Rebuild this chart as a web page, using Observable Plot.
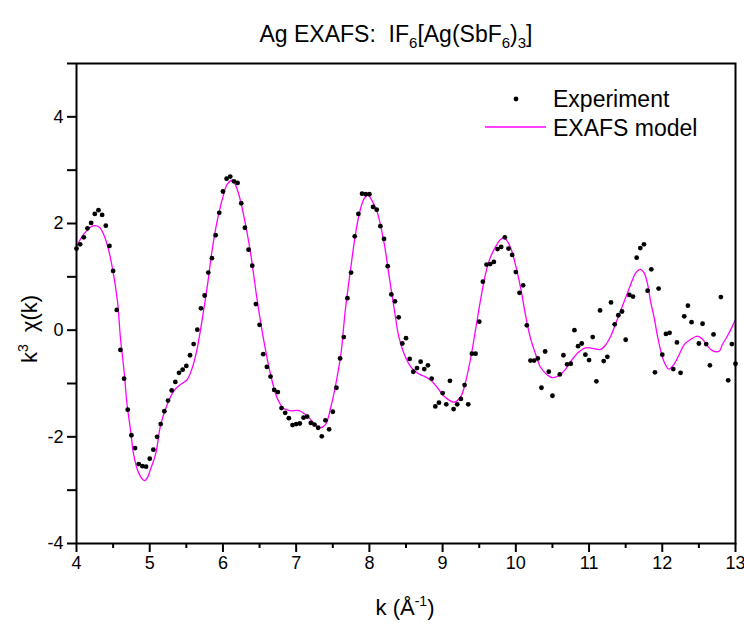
<!DOCTYPE html>
<html>
<head>
<meta charset="utf-8">
<script src="https://cdn.jsdelivr.net/npm/d3@7"></script>
<script src="https://cdn.jsdelivr.net/npm/@observablehq/plot@0.6"></script>
<style>
  html, body { margin: 0; padding: 0; background: #fff; }
</style>
</head>
<body>
<div id="chart"></div>
<script>
// Experimental data k (Å^-1) and k^3 chi(k)
const kExp = [4.00,4.05,4.10,4.15,4.20,4.25,4.30,4.35,4.40,4.45,4.50,4.55,4.60,4.65,4.70,4.75,4.80,4.85,4.90,4.95,
  5.00,5.05,5.10,5.15,5.20,5.25,5.30,5.35,5.40,5.45,5.50,5.55,5.60,5.65,5.70,5.75,5.80,5.85,5.90,5.95,
  6.00,6.05,6.10,6.15,6.20,6.25,6.30,6.35,6.40,6.45,6.50,6.55,6.60,6.65,6.70,6.75,6.80,6.85,6.90,6.95,
  7.00,7.05,7.10,7.15,7.20,7.25,7.30,7.35,7.40,7.45,7.50,7.55,7.60,7.65,7.70,7.75,7.80,7.85,7.90,7.95,
  8.00,8.05,8.10,8.15,8.20,8.25,8.30,8.35,8.40,8.45,8.50,8.55,8.60,8.65,8.70,8.75,8.80,8.85,8.90,8.95,
  9.00,9.05,9.10,9.15,9.20,9.25,9.30,9.35,9.40,9.45,9.50,9.55,9.60,9.65,9.70,9.75,9.80,9.85,9.90,9.95,
  10.00,10.05,10.10,10.15,10.20,10.25,10.30,10.35,10.40,10.45,10.50,10.60,10.65,10.70,10.75,10.80,10.85,10.90,10.95,
  11.00,11.05,11.10,11.15,11.20,11.25,11.30,11.35,11.40,11.45,11.50,11.55,11.60,11.65,11.70,11.75,11.80,11.85,11.90,11.95,
  12.00,12.05,12.10,12.15,12.20,12.25,12.30,12.35,12.40,12.50,12.55,12.60,12.65,12.70,12.80,12.90,12.95,13.00];
const chiExp = [1.53,1.61,1.74,1.91,2.01,2.18,2.25,2.16,1.96,1.58,1.11,0.38,-0.37,-0.91,-1.49,-1.97,-2.21,-2.51,-2.55,-2.56,
  -2.41,-2.24,-2.00,-1.76,-1.52,-1.32,-1.13,-0.97,-0.80,-0.74,-0.67,-0.47,-0.26,0.01,0.41,0.65,1.08,1.35,1.78,2.20,
  2.60,2.84,2.88,2.79,2.76,2.38,1.92,1.51,1.21,0.49,0.10,-0.45,-0.69,-0.87,-1.12,-1.16,-1.46,-1.55,-1.65,-1.78,
  -1.76,-1.75,-1.64,-1.62,-1.74,-1.77,-1.83,-1.99,-1.69,-1.86,-1.53,-1.08,-0.53,-0.13,0.60,1.08,1.76,2.18,2.56,2.55,
  2.55,2.31,2.26,1.95,1.71,1.20,0.67,0.54,0.24,-0.25,-0.15,-0.54,-0.78,-0.71,-0.59,-0.73,-0.66,-0.91,-1.43,-1.36,
  -1.18,-1.39,-0.95,-1.48,-1.39,-1.29,-1.03,-1.39,-0.44,-0.44,0.16,0.91,1.23,1.24,1.28,1.52,1.56,1.74,1.53,1.41,
  1.09,0.70,0.84,0.09,-0.57,-0.57,-0.53,-1.08,-0.40,-0.78,-1.23,-0.83,-0.47,-0.64,-0.63,0.00,-0.30,-0.25,-0.46,
  -0.56,-0.13,-0.96,0.37,-0.58,-0.50,0.52,0.11,0.28,0.35,-0.18,0.66,0.63,1.36,1.54,1.61,0.74,1.14,-0.79,0.78,
  -0.46,-0.07,-0.05,-0.73,-0.23,-0.80,0.26,0.46,0.15,-0.25,0.12,-0.26,-0.66,-0.08,0.62,-0.94,-0.26,-0.63];

// EXAFS model curve
const kModel = [4.00,4.10,4.20,4.26,4.32,4.37,4.43,4.49,4.56,4.60,4.65,4.69,4.74,4.78,4.85,4.93,4.97,5.01,5.08,5.15,
  5.24,5.33,5.42,5.51,5.58,5.65,5.72,5.79,5.85,5.92,6.00,6.06,6.13,6.20,6.29,6.38,6.47,6.56,6.65,6.74,
  6.83,6.92,7.04,7.15,7.24,7.32,7.40,7.47,7.54,7.61,7.67,7.74,7.81,7.87,7.93,7.98,8.04,8.11,8.20,8.27,
  8.34,8.40,8.47,8.56,8.65,8.74,8.84,8.93,9.02,9.11,9.16,9.25,9.31,9.38,9.45,9.52,9.59,9.66,9.73,9.79,
  9.85,9.93,10.00,10.07,10.13,10.20,10.27,10.34,10.43,10.50,10.59,10.68,10.77,10.86,10.95,11.04,11.16,11.23,11.30,11.36,
  11.43,11.50,11.57,11.64,11.70,11.75,11.80,11.84,11.89,11.93,11.98,12.03,12.09,12.16,12.23,12.30,12.39,12.48,12.55,12.62,
  12.69,12.78,12.82,12.89,12.96,13.00];
const chiModel = [1.57,1.80,1.94,1.96,1.92,1.80,1.55,1.17,0.54,-0.14,-0.77,-1.39,-1.89,-2.33,-2.68,-2.82,-2.76,-2.61,-2.33,-1.77,
  -1.39,-1.14,-1.02,-0.93,-0.71,-0.33,0.23,0.86,1.48,2.04,2.50,2.74,2.81,2.62,2.11,1.42,0.54,-0.21,-0.83,-1.27,
  -1.47,-1.51,-1.51,-1.61,-1.74,-1.83,-1.77,-1.46,-1.02,-0.46,0.36,1.11,1.80,2.23,2.47,2.53,2.42,2.20,1.64,1.01,
  0.39,-0.11,-0.43,-0.68,-0.80,-0.86,-0.94,-1.08,-1.24,-1.33,-1.35,-1.24,-0.99,-0.55,0.01,0.58,1.08,1.39,1.58,1.70,
  1.72,1.54,1.20,0.76,0.30,-0.15,-0.45,-0.70,-0.84,-0.89,-0.85,-0.73,-0.55,-0.41,-0.33,-0.34,-0.36,-0.27,-0.10,0.11,
  0.36,0.61,0.86,1.08,1.14,1.08,0.86,0.54,0.23,-0.08,-0.39,-0.61,-0.73,-0.64,-0.46,-0.27,-0.17,-0.11,-0.17,-0.30,
  -0.39,-0.39,-0.27,-0.11,0.08,0.20];

// Axis ticks
const xTicks = [4,5,6,7,8,9,10,11,12,13];
const xMinorTicks = [4.5,5.5,6.5,7.5,8.5,9.5,10.5,11.5,12.5];
const yTicks = [-4,-3,-2,-1,0,1,2,3,4,5];
const yTickLabels = [-4,-2,0,2,4];

const exp = kExp.map((k, i) => ({k, chi: chiExp[i]}));
const model = kModel.map((k, i) => ({k, chi: chiModel[i]}));

const font = "Liberation Sans, Arial, sans-serif";

const chart = Plot.plot({
  width: 744,
  height: 624,
  marginLeft: 76,
  marginRight: 9,
  marginTop: 63,
  marginBottom: 81,
  style: {fontFamily: font, background: "white", color: "black"},
  x: {domain: [4, 13]},
  y: {domain: [-4, 5]},
  marks: [
    Plot.line(model, {x: "k", y: "chi", stroke: "#ff00ff", strokeWidth: 1.3, curve: "catmull-rom"}),
    Plot.dot(exp, {x: "k", y: "chi", r: 2.4, fill: "black"}),
    Plot.frame({stroke: "black", strokeWidth: 2}),
    Plot.axisX({ticks: xTicks, tickSize: 9, tickPadding: 4, stroke: "black", strokeWidth: 2, fontSize: 18, label: null, tickFormat: d => `${d}`}),
    Plot.axisX({ticks: xMinorTicks, tickSize: 5, tickPadding: 4, stroke: "black", strokeWidth: 2, fontSize: 18, label: null, tickFormat: () => " "}),
    Plot.axisY({ticks: yTicks, tickSize: 9, tickPadding: 4, stroke: "black", strokeWidth: 2, fontSize: 18, label: null,
      tickFormat: d => yTickLabels.includes(d) ? `${d}` : " "})
  ]
});

const svg = d3.select(chart);

// Title with subscripts
const title = svg.append("text")
  .attr("x", 396).attr("y", 42)
  .attr("text-anchor", "middle")
  .attr("font-size", 23)
  .attr("font-family", font)
  .attr("fill", "black");
const parts = [["Ag EXAFS:\u00a0\u00a0IF", false], ["6", true], ["[Ag(SbF", false], ["6", true], [")", false], ["3", true], ["]", false]];
parts.forEach(([t, sub], i) => {
  const prevSub = i > 0 && parts[i - 1][1];
  const ts = title.append("tspan").text(t).attr("dy", sub ? 6 : (prevSub ? -6 : 0));
  if (sub) ts.attr("font-size", 15);
});

// X label
const xl = svg.append("text")
  .attr("x", 405).attr("y", 615)
  .attr("text-anchor", "middle")
  .attr("font-size", 22)
  .attr("font-family", font);
xl.append("tspan").text("k (\u00c5");
xl.append("tspan").text("-1").attr("font-size", 14).attr("dy", -9);
xl.append("tspan").text(")").attr("dy", 9);

// Y label
const yl = svg.append("text")
  .attr("transform", "translate(37,329) rotate(-90)")
  .attr("text-anchor", "middle")
  .attr("font-size", 22)
  .attr("font-family", font);
yl.append("tspan").text("k");
yl.append("tspan").text("3").attr("font-size", 14).attr("dy", -9);
yl.append("tspan").text("\u00a0\u00a0\u03c7(k)").attr("dy", 9);

// Legend
const lg = svg.append("g").attr("font-family", font).attr("font-size", 23).attr("text-anchor", "start");
lg.append("circle").attr("cx", 516).attr("cy", 99).attr("r", 2.4).attr("fill", "black");
lg.append("text").attr("x", 553).attr("y", 107).attr("text-anchor", "start").text("Experiment");
lg.append("line").attr("x1", 485).attr("x2", 546).attr("y1", 127).attr("y2", 127).attr("stroke", "#ff00ff").attr("stroke-width", 1.3);
lg.append("text").attr("x", 553).attr("y", 136).attr("text-anchor", "start").text("EXAFS model");

document.getElementById("chart").appendChild(chart);
</script>
</body>
</html>
